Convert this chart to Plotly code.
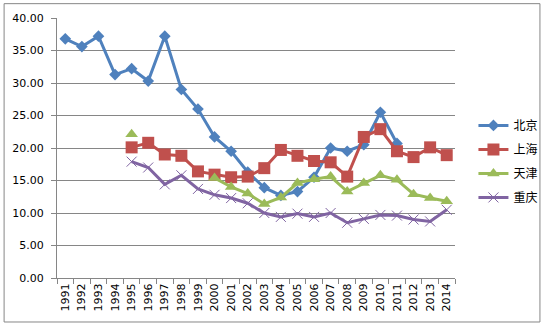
import plotly.graph_objects as go

years = [str(y) for y in range(1991, 2015)]
beijing = [36.8, 35.6, 37.2, 31.3, 32.2, 30.3, 37.2, 29.0, 26.0, 21.7, 19.5, 16.3,
           13.9, 12.7, 13.3, 15.5, 20.0, 19.5, 20.5, 25.5, 20.7, None, None, None]
shanghai = [None, None, None, None, 20.1, 20.8, 19.0, 18.8, 16.4, 15.9, 15.5, 15.6,
            16.9, 19.7, 18.8, 18.0, 17.8, 15.6, 21.7, 22.9, 19.5, 18.6, 20.1, 18.9]
tianjin = [None, None, None, None, 22.1, None, None, None, None, 15.4, 14.0, 13.0,
           11.4, 12.4, 14.6, 15.2, 15.6, 13.3, 14.6, 15.8, 15.1, 12.9, 12.3, 11.8]
chongqing = [None, None, None, None, 17.9, 17.0, 14.4, 15.8, 13.7, 12.8, 12.3, 11.5,
             10.0, 9.4, 9.9, 9.4, 10.0, 8.5, 9.1, 9.7, 9.6, 9.0, 8.7, 10.5]
names = ["北京", "上海", "天津", "重庆"]
colors = ["#4F81BD", "#C0504D", "#9BBB59", "#8064A2"]
symbols = ["diamond", "square", "triangle-up", "x-thin-open"]
msizes = [9, 12, 11, 10]

fig = go.Figure()
for i, (name, vals) in enumerate(zip(names, [beijing, shanghai, tianjin, chongqing])):
    marker = dict(symbol=symbols[i], size=msizes[i], color=colors[i])
    if symbols[i] == "x-thin-open":
        marker["line"] = dict(color=colors[i], width=1)
    fig.add_trace(go.Scatter(
        x=years, y=vals, name=name, mode="lines+markers",
        line=dict(color=colors[i], width=3),
        marker=marker, legendgroup=name, connectgaps=False,
    ))

W, H = 555, 325
ml, mr, mt, mb = 56, 89, 15, 47
pw, ph = W - ml - mr, H - mt - mb

def px_x(p):
    return (p - ml) / pw

def px_y(p):
    return 1 - (p - mt) / ph

fig.update_layout(
    width=W, height=H,
    margin=dict(l=ml, r=mr, t=mt, b=mb),
    paper_bgcolor="white", plot_bgcolor="white",
    font=dict(family="DejaVu Sans, Arial", size=11, color="#000000"),
    showlegend=True,
    legend=dict(
        x=px_x(485), y=px_y(109), xanchor="left", yanchor="top",
        font=dict(family="Noto Sans CJK SC", size=12, color="#000000"),
        tracegroupgap=5, bgcolor="rgba(0,0,0,0)",
    ),
    xaxis=dict(
        type="category", tickson="boundaries", ticks="outside", ticklen=5,
        tickcolor="#868686", showline=True, linecolor="#868686", linewidth=1,
        showgrid=False, tickangle=-90, tickfont=dict(size=11),
        range=[-0.5, 23.5],
    ),
    yaxis=dict(
        range=[0, 40], dtick=5, tickformat=".2f", ticks="outside", ticklen=5,
        tickcolor="#868686", showline=True, linecolor="#868686", linewidth=1,
        showgrid=True, gridcolor="#868686", gridwidth=1, zeroline=False,
        tickfont=dict(size=11), ticklabelstandoff=5,
    ),
    shapes=[dict(
        type="rect", xref="paper", yref="paper",
        x0=px_x(1.5), x1=px_x(553.5), y0=px_y(322.5), y1=px_y(0.5),
        line=dict(color="#868686", width=1), fillcolor="rgba(0,0,0,0)",
    )],
)

fig.write_html("out.html")
